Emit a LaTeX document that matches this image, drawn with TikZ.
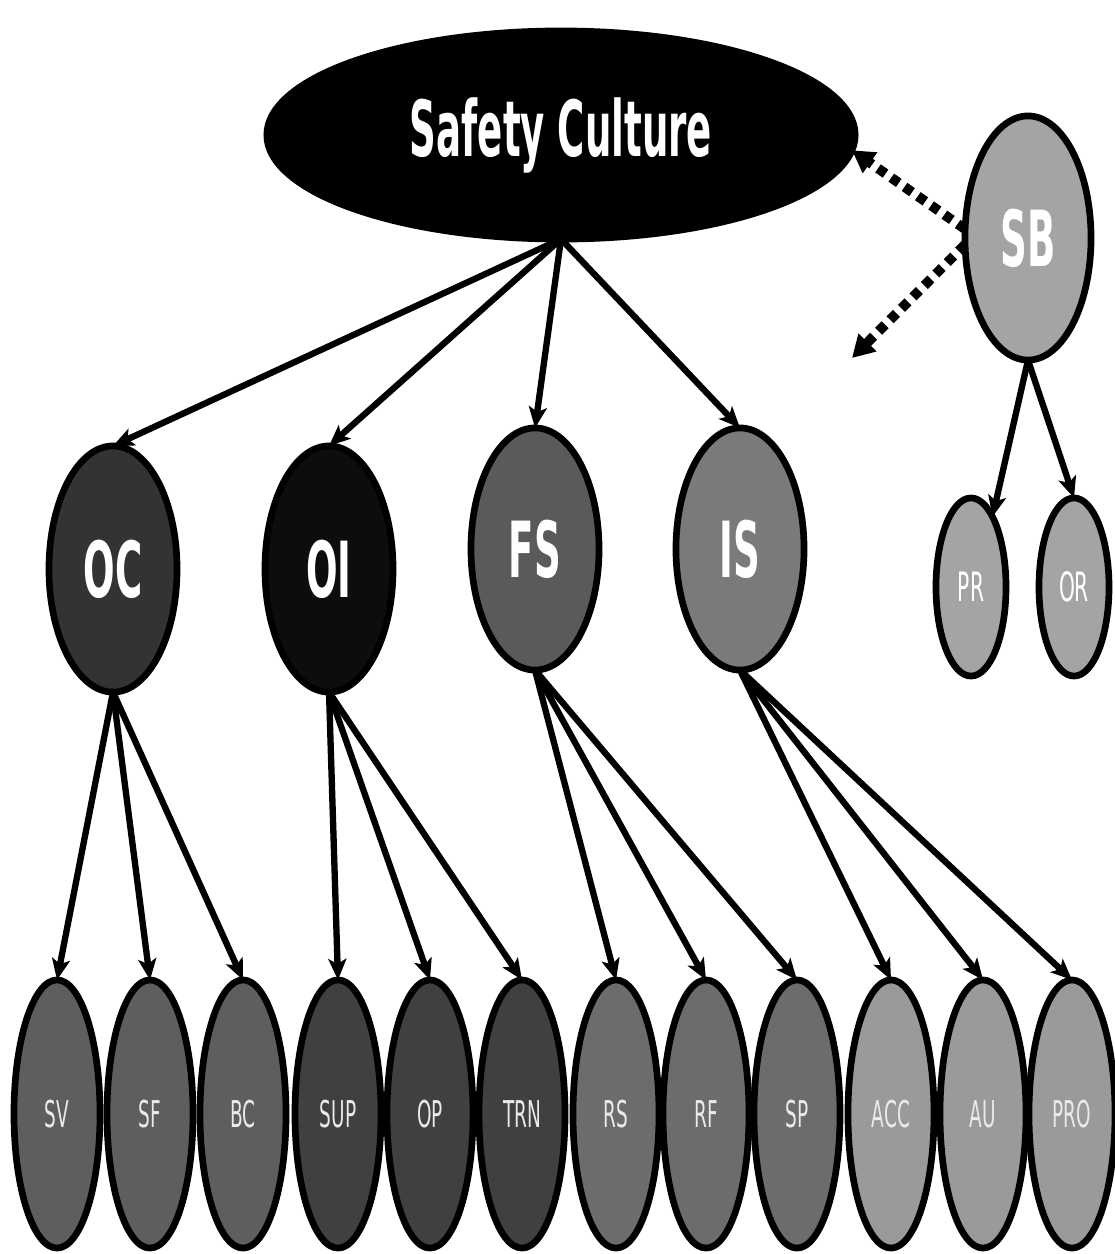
\documentclass[tikz,border=0pt]{standalone}
\usepackage{fontspec}
\setmainfont{DejaVu Sans}
\newfontfamily\bigfont[FakeStretch=0.48]{DejaVu Sans}
\newfontfamily\smlfont[FakeStretch=0.5]{DejaVu Sans}
\usetikzlibrary{shapes.geometric,arrows.meta}
\definecolor{gOC}{HTML}{333333}
\definecolor{gOI}{HTML}{0D0D0D}
\definecolor{gFS}{HTML}{5A5A5A}
\definecolor{gIS}{HTML}{7A7A7A}
\definecolor{gSB}{HTML}{A4A4A4}
\definecolor{lOC}{HTML}{5E5E5E}
\definecolor{lOI}{HTML}{404040}
\definecolor{lFS}{HTML}{6C6C6C}
\definecolor{lIS}{HTML}{9A9A9A}
\definecolor{leaftext}{HTML}{EAEAEA}
\begin{document}
\begin{tikzpicture}[x=0.01cm,y=-0.01cm,
 ellnode/.style={ellipse,draw=black,line width=1.9pt,inner sep=0pt,outer sep=0pt},
 bignode/.style={ellnode,minimum width=1.28cm,minimum height=2.46cm,text=white,font=\bigfont\bfseries\fontsize{22}{24}\selectfont},
 midnode/.style={ellnode,minimum width=0.70cm,minimum height=1.78cm,fill=gSB,text=white,font=\smlfont\fontsize{11.5}{13}\selectfont},
 leafnode/.style={ellnode,minimum width=0.86cm,minimum height=2.68cm,text=leaftext,font=\smlfont\fontsize{10.5}{12}\selectfont},
 conn/.style={line width=1.8pt,-{Stealth[length=0.21cm,width=0.18cm,inset=0.05cm]}},
 dconn/.style={line width=2.8pt,dash pattern=on 2.6pt off 2.0pt,-{Triangle[length=0.22cm,width=0.24cm]}}
]
\useasboundingbox (0,0) rectangle (1114,1254);

% top
\node[ellnode,fill=black,minimum width=5.88cm,minimum height=2.08cm,text=white,
      font=\bigfont\bfseries\fontsize{22}{24}\selectfont] (sc) at (561,135) {Safety Culture};

% second level
\node[bignode,fill=gOC] (oc) at (113,569) {OC};
\node[bignode,fill=gOI] (oi) at (329,569) {OI};
\node[bignode,fill=gFS,minimum height=2.42cm] (fs) at (535,549) {FS};
\node[bignode,fill=gIS,minimum height=2.42cm] (is) at (740,549) {IS};

% SB branch
\node[bignode,fill=gSB,minimum width=1.26cm,minimum height=2.44cm] (sb) at (1028,238) {SB};
\node[midnode] (pr) at (971,587) {PR};
\node[midnode] (or) at (1074,587) {OR};
\coordinate (free) at (852,358);

% leaves
\node[leafnode,fill=lOC] (sv)  at (57,1114)   {SV};
\node[leafnode,fill=lOC] (sf)  at (150,1114)  {SF};
\node[leafnode,fill=lOC] (bc)  at (243,1114)  {BC};
\node[leafnode,fill=lOI] (sup) at (338,1114)  {SUP};
\node[leafnode,fill=lOI] (op)  at (430,1114)  {OP};
\node[leafnode,fill=lOI] (trn) at (522,1114)  {TRN};
\node[leafnode,fill=lFS] (rs)  at (616,1114)  {RS};
\node[leafnode,fill=lFS] (rf)  at (706,1114)  {RF};
\node[leafnode,fill=lFS] (sp)  at (797,1114)  {SP};
\node[leafnode,fill=lIS] (acc) at (891,1114)  {ACC};
\node[leafnode,fill=lIS] (au)  at (983,1114)  {AU};
\node[leafnode,fill=lIS] (pro) at (1072,1114) {PRO};

% connectors
\draw[conn] (sc.south) -- (oc.north);
\draw[conn] (sc.south) -- (oi.north);
\draw[conn] (sc.south) -- (fs.north);
\draw[conn] (sc.south) -- (is.north);

\draw[conn] (oc.south) -- (sv.north);
\draw[conn] (oc.south) -- (sf.north);
\draw[conn] (oc.south) -- (bc.north);
\draw[conn] (oi.south) -- (sup.north);
\draw[conn] (oi.south) -- (op.north);
\draw[conn] (oi.south) -- (trn.north);
\draw[conn] (fs.south) -- (rs.north);
\draw[conn] (fs.south) -- (rf.north);
\draw[conn] (fs.south) -- (sp.north);
\draw[conn] (is.south) -- (acc.north);
\draw[conn] (is.south) -- (au.north);
\draw[conn] (is.south) -- (pro.north);

\draw[conn] (sb.south) -- (pr.73);
\draw[conn] (sb.south) -- (or.north);

\draw[dconn] (sb.172) -- (sc.-3);
\draw[dconn] (sb.186) -- (free);
\end{tikzpicture}
\end{document}
